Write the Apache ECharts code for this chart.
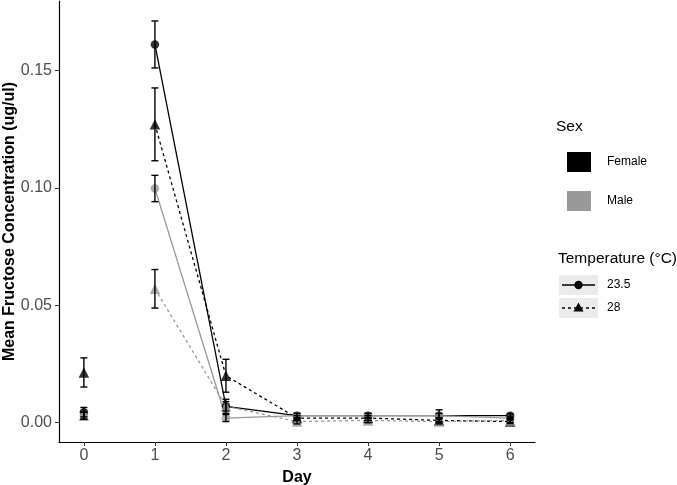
<!DOCTYPE html>
<html>
<head>
<meta charset="utf-8">
<script src="https://cdn.jsdelivr.net/npm/echarts@6/dist/echarts.min.js"></script>
<style>html,body{margin:0;padding:0;background:#fff}#c{width:677px;height:485px}</style>
</head>
<body>
<div id="c"></div>
<script>
// ---- data ----
const days = [0, 1, 2, 3, 4, 5, 6];
const yTicks = [0, 0.05, 0.10, 0.15];
const xTicks = [0, 1, 2, 3, 4, 5, 6];

const female235 = [0.0045, 0.161, 0.007, 0.003, 0.003, 0.003, 0.003];
const female235Err = [0.002, 0.010, 0.002, 0.001, 0.001, 0.0025, 0.0008];
const female28 = [0.0214, 0.127, 0.020, 0.002, 0.002, 0.001, 0.0005];
const female28Err = [0.0062, 0.0155, 0.007, 0.001, 0.001, 0.001, 0.0008];
const male235 = [0.003, 0.0997, 0.002, 0.003, 0.003, 0.003, 0.002];
const male235Err = [0.0015, 0.0056, 0.0015, 0.001, 0.001, 0.001, 0.0008];
const male28 = [0.003, 0.057, 0.007, 0.0005, 0.001, 0.0005, 0.001];
const male28Err = [0.0015, 0.0082, 0.003, 0.001, 0.001, 0.001, 0.0008];

const BLACK = '#000000', GREY = '#999999';
const FONT = 'Liberation Sans, Arial, sans-serif';

function lineData(v) { return days.slice(1).map((d, i) => [d, v[i + 1]]); }
function errData(v, e) { return days.map((d, i) => [d, v[i] - e[i], v[i] + e[i]]); }

const groups = [
  { v: female235, e: female235Err, c: BLACK, sym: 'circle', size: 8.5, dash: 'solid' },
  { v: female28, e: female28Err, c: BLACK, sym: 'triangle', size: 10.5, dash: [3, 3] },
  { v: male235, e: male235Err, c: GREY, sym: 'circle', size: 8.5, dash: 'solid' },
  { v: male28, e: male28Err, c: GREY, sym: 'triangle', size: 10.5, dash: [3, 3] }
];

const series = [];
groups.forEach(g => {
  series.push({
    type: 'line', data: lineData(g.v), showSymbol: false, silent: true,
    lineStyle: { color: g.c, width: 1.3, type: g.dash }, z: 2
  });
});
groups.forEach(g => {
  series.push({
    type: 'scatter', data: days.map((d, i) => [d, g.v[i]]), symbol: g.sym, symbolSize: g.size,
    itemStyle: { color: g.c }, z: 3, silent: true
  });
});
groups.forEach(g => {
  series.push({
    type: 'custom', z: 4, silent: true,
    renderItem: function (params, api) {
      const x = api.value(0);
      const lo = api.coord([x, api.value(1)]);
      const hi = api.coord([x, api.value(2)]);
      const w = 3.5;
      const st = { stroke: '#000', lineWidth: 1.4 };
      return {
        type: 'group', children: [
          { type: 'line', shape: { x1: lo[0], y1: lo[1], x2: hi[0], y2: hi[1] }, style: st },
          { type: 'line', shape: { x1: lo[0] - w, y1: lo[1], x2: lo[0] + w, y2: lo[1] }, style: st },
          { type: 'line', shape: { x1: hi[0] - w, y1: hi[1], x2: hi[0] + w, y2: hi[1] }, style: st }
        ]
      };
    },
    data: errData(g.v, g.e)
  });
});

const legendGraphics = [
  { type: 'text', left: 556, top: 119, style: { text: 'Sex', font: '15.5px ' + FONT, fill: '#000' } },
  { type: 'rect', shape: { x: 567, y: 152, width: 24, height: 20 }, style: { fill: BLACK } },
  { type: 'text', left: 607, top: 156, style: { text: 'Female', font: '12px ' + FONT, fill: '#000' } },
  { type: 'rect', shape: { x: 567, y: 191, width: 24, height: 20 }, style: { fill: GREY } },
  { type: 'text', left: 607, top: 195, style: { text: 'Male', font: '12px ' + FONT, fill: '#000' } },
  { type: 'text', left: 558, top: 251, style: { text: 'Temperature (°C)', font: '15.5px ' + FONT, fill: '#000' } },
  { type: 'rect', shape: { x: 559, y: 275, width: 39, height: 20 }, style: { fill: '#ebebeb' } },
  { type: 'rect', shape: { x: 559, y: 298, width: 39, height: 20 }, style: { fill: '#ebebeb' } },
  { type: 'line', shape: { x1: 562, y1: 285, x2: 595, y2: 285 }, style: { stroke: '#000', lineWidth: 1.3 } },
  { type: 'circle', shape: { cx: 578.5, cy: 285, r: 4.2 }, style: { fill: '#000' } },
  { type: 'line', shape: { x1: 562, y1: 308, x2: 595, y2: 308 }, style: { stroke: '#000', lineWidth: 1.3, lineDash: [3, 3] } },
  { type: 'polygon', shape: { points: [[578.5, 302.5], [583.5, 311.5], [573.5, 311.5]] }, style: { fill: '#000' } },
  { type: 'text', left: 607, top: 279, style: { text: '23.5', font: '12px ' + FONT, fill: '#000' } },
  { type: 'text', left: 607, top: 302, style: { text: '28', font: '12px ' + FONT, fill: '#000' } }
];

const chart = echarts.init(document.getElementById('c'), null, { renderer: 'canvas' });
chart.setOption({
  animation: false,
  backgroundColor: '#fff',
  grid: { left: 59, right: 142, top: 1, bottom: 43, containLabel: false, outerBoundsMode: 'none' },
  xAxis: {
    type: 'value', min: -0.35, max: 6.35,
    name: 'Day', nameLocation: 'middle', nameGap: 28, nameMoveOverlap: false,
    nameTextStyle: { fontFamily: FONT, fontSize: 16, fontWeight: 'bold', color: '#000' },
    axisLine: { onZero: false, lineStyle: { color: '#000', width: 1.2 } },
    axisTick: { show: true, length: 4, lineStyle: { color: '#333' }, customValues: xTicks },
    axisLabel: { customValues: xTicks, fontFamily: FONT, fontSize: 16, color: '#4d4d4d', margin: 6 },
    splitLine: { show: false }
  },
  yAxis: {
    type: 'value', min: -0.0082, max: 0.1795,
    name: 'Mean Fructose Concentration (ug/ul)', nameLocation: 'middle', nameGap: 41, nameMoveOverlap: false,
    nameTextStyle: { fontFamily: FONT, fontSize: 16, fontWeight: 'bold', color: '#000' },
    axisLine: { show: true, onZero: false, lineStyle: { color: '#000', width: 1.2 } },
    axisTick: { show: true, length: 4, lineStyle: { color: '#333' }, customValues: yTicks },
    axisLabel: { customValues: yTicks, formatter: v => v.toFixed(2), fontFamily: FONT, fontSize: 16, color: '#4d4d4d', margin: 7 },
    splitLine: { show: false }
  },
  series: series,
  graphic: legendGraphics
});
</script>
</body>
</html>
